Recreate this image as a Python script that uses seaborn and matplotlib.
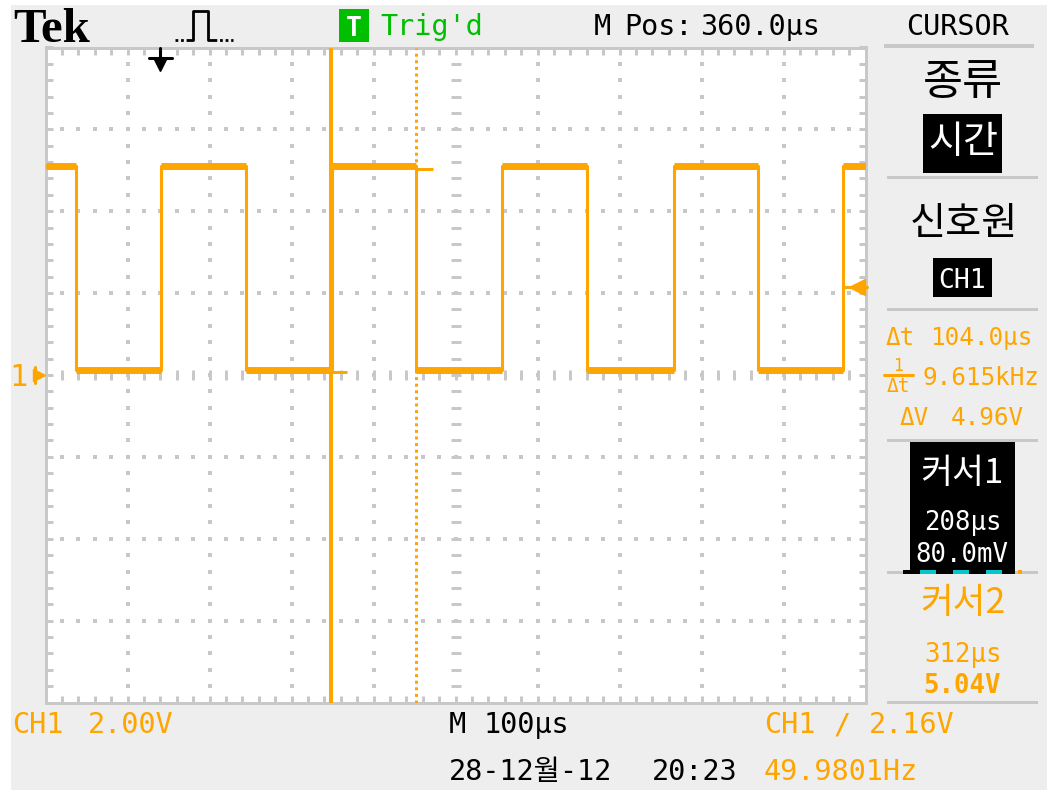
import numpy as np
import pandas as pd
import seaborn as sns
import matplotlib.pyplot as plt
from matplotlib import font_manager
from matplotlib.patches import Rectangle

# screen: 10 div x 100 us (time relative to trigger), 8 div x 2 V
time_range = [-140, 860]
volt_range = [-8, 8]
us_per_div = 100
volt_per_div = 2

# square wave: times (us) where the level flips, starts high
edge_times = [-103, 1, 105, 209, 312, 417, 520, 626, 729, 833]
levels = [5.1, 0.12]          # high, low (V)

cursor_times = [208, 312]
cursor_volts = [0.08, 5.04]
trigger_time = 0
trigger_level = 2.16

top_labels = ["Tek", "Trig'd", "M", "Pos:", "360.0μs", "CURSOR"]
menu_labels = ["종류", "시간", "신호원", "CH1"]
readouts = ["Δt", "104.0μs", "9.615kHz", "ΔV", "4.96V"]
cursor1_labels = ["커서1", "208μs", "80.0mV"]
cursor2_labels = ["커서2", "312μs", "5.04V"]
bottom_labels = ["CH1", "2.00V", "M", "100μs", "CH1", "/", "2.16V",
                 "28-12월-12", "20:23", "49.9801Hz"]

orange = "#FFA500"
green = "#00BE00"
gray = "#C8C8C8"
panel = "#EEEEEE"


def first_font(names, default="DejaVu Sans"):
    for n in names:
        try:
            font_manager.findfont(font_manager.FontProperties(family=n), fallback_to_default=False)
            return n
        except ValueError:
            pass
    return default


sns.set_theme(style="white")
latin = first_font(["DejaVu Sans Mono", "Liberation Mono"])
kr = first_font(["Noto Sans CJK KR", "Noto Sans CJK SC"])
serif = first_font(["Liberation Serif", "DejaVu Serif"])
fam = [latin, "DejaVu Sans", kr]
plt.rcParams["font.family"] = fam

W, H = 1047, 790
fig = plt.figure(figsize=(W / 100, H / 100), dpi=100, facecolor="white")

# background layer (pixel coords)
bg = fig.add_axes([0, 0, 1, 1], zorder=0)
bg.set_xlim(0, W); bg.set_ylim(H, 0); bg.set_axis_off()
bg.add_patch(Rectangle((11, 5), W - 11, H - 5, color=panel, lw=0))

# scope graticule
px_l, px_r, px_t, px_b = 45.5, 865.5, 47.5, 702.5
ax = fig.add_axes([px_l / W, 1 - px_b / H, (px_r - px_l) / W, (px_b - px_t) / H], zorder=1)
ax.set_facecolor("white")

t0, t1 = time_range
v0, v1 = volt_range
t_mid = (t0 + t1) / 2
minor_t = us_per_div / 5
minor_v = volt_per_div / 5

# dotted major lines, dashed centre cross
for tx in np.arange(t0 + us_per_div, t1, us_per_div):
    ys = np.arange(v0 + minor_v, v1 - minor_v / 2, minor_v)
    if tx == t_mid:
        ax.plot(np.full_like(ys, tx), ys, "_", ms=7.2, mew=2.16, color=gray, zorder=1)
    else:
        ax.plot(np.full_like(ys, tx), ys, "s", ms=2.2, mew=0, color=gray, zorder=1)
for vy in np.arange(v0 + volt_per_div, v1, volt_per_div):
    xs = np.arange(t0 + minor_t, t1 - minor_t / 2, minor_t)
    if vy == 0:
        ax.plot(xs, np.full_like(xs, vy), "|", ms=7.2, mew=2.16, color=gray, zorder=1)
    else:
        ax.plot(xs, np.full_like(xs, vy), "s", ms=2.2, mew=0, color=gray, zorder=1)

# trace
tt, vv = [t0], [levels[0]]
lvl = 0
for e in edge_times:
    tt += [e, e]
    vv += [levels[lvl], levels[1 - lvl]]
    lvl = 1 - lvl
tt.append(t1); vv.append(levels[lvl])
trace = pd.DataFrame({"t": tt, "v": vv})
sns.lineplot(data=trace, x="t", y="v", sort=False, estimator=None,
             color=orange, lw=2.2, ax=ax, zorder=3)
bounds = [t0] + edge_times + [t1]
for i in range(len(bounds) - 1):
    ax.hlines(levels[i % 2], bounds[i], bounds[i + 1], color=orange, lw=5, zorder=3)

# cursors
ax.axvline(cursor_times[0], color=orange, lw=2.9, zorder=4)
ax.axvline(cursor_times[1], color=orange, lw=2.16, ls=(0, (1, 1.2)), zorder=4)
for ct, cv in zip(cursor_times, cursor_volts):
    ax.hlines(cv, ct, ct + minor_t, color=orange, lw=2.16, zorder=4)

# trigger level marker (right edge)
ax.plot([t1 - 28, t1 + 2], [trigger_level, trigger_level], color=orange, lw=2.2, clip_on=False, zorder=5)
ax.plot([t1 - 10], [trigger_level], "<", ms=11, color=orange, clip_on=False, zorder=5)
# trigger position marker (top)
xa = ax.get_xaxis_transform()
ax.plot([trigger_time, trigger_time], [1.0, 0.984], color="black", lw=2.2, transform=xa, clip_on=False, zorder=5)
ax.plot([trigger_time - 14, trigger_time + 14], [0.984, 0.984], color="black", lw=2.2, transform=xa, zorder=5)
ax.plot([trigger_time], [0.973], "v", ms=8, color="black", transform=xa, zorder=5)

ax.set_xlim(t0, t1)
ax.set_ylim(v0, v1)
ax.set(xlabel="", ylabel="")
ax.set_xticks(np.arange(t0, t1 + 1, minor_t))
ax.set_yticks(np.arange(v0, v1 + 0.01, minor_v))
ax.tick_params(which="both", direction="in", length=5, width=2.16, color=gray,
               top=True, right=True, bottom=True, left=True,
               labelbottom=False, labelleft=False)
for sp in ax.spines.values():
    sp.set_color(gray)
    sp.set_linewidth(2.16)

# foreground layer for the screen text
fg = fig.add_axes([0, 0, 1, 1], zorder=2)
fg.set_xlim(0, W); fg.set_ylim(H, 0); fg.set_axis_off()
fg.patch.set_alpha(0)
renderer = fig.canvas.get_renderer()


def fit_text(s, x0, x1, y, color, family=None, va="baseline", weight="normal"):
    txt = fg.text((x0 + x1) / 2, y, s, ha="center", va=va, color=color,
                  family=family or fam, weight=weight, fontsize=20, zorder=6)
    w = txt.get_window_extent(renderer).width
    txt.set_fontsize(20 * (x1 - x0) / w)
    return txt


def put(s, x, y, color, size, ha="left", weight="normal"):
    return fg.text(x, y, s, ha=ha, va="baseline", color=color, fontsize=size,
                   weight=weight, zorder=6)


def bar(y, x0=887, x1=1038, h=3, color=gray):
    fg.add_patch(Rectangle((x0, y - h / 2), x1 - x0, h, color=color, lw=0))


big = 20.5      # status bar text
mid = 17.5      # side panel text

# top bar
fit_text(top_labels[0], 13, 90, 42, "black", serif, weight="bold")
fg.plot([175, 188], [40, 40], color="black", lw=2, ls=(0, (1, 1)))
fg.plot([188, 193, 193, 208, 208, 214], [40, 40, 11, 11, 40, 40], color="black", lw=2)
fg.plot([214, 233], [40, 40], color="black", lw=2, ls=(0, (1, 1)))
fg.add_patch(Rectangle((339, 9), 30, 33, color=green, lw=0))
put("T", 354, 36, "white", 19, ha="center", weight="bold")
put(top_labels[1], 380, 35, green, big)
put(top_labels[2], 594, 35, "black", big)
put(top_labels[3], 624, 35, "black", big)
put(top_labels[4], 700, 35, "black", big)
put(top_labels[5], 958, 35, "black", big, ha="center")
bar(46, 884, 1034, h=4)

# right menu
fit_text(menu_labels[0], 923, 1003, 83, "black", kr, va="center")
fg.add_patch(Rectangle((923, 114), 79, 59, color="black", lw=0))
fit_text(menu_labels[1], 928, 998, 143, "white", kr, va="center")
bar(177)
fit_text(menu_labels[2], 910, 1018, 224, "black", kr, va="center")
fg.add_patch(Rectangle((933, 258), 59, 39, color="black", lw=0))
put(menu_labels[3], 962, 288, "white", 19, ha="center")
bar(309)

put(readouts[0], 886, 345, orange, mid)
put(readouts[1], 930, 345, orange, mid)
put("1", 898, 371, orange, 12, ha="center")
fg.plot([884, 913], [375, 375], color=orange, lw=2.2)
put(readouts[0], 898, 392, orange, 14, ha="center")
put(readouts[2], 923, 385, orange, mid)
put(readouts[3], 900, 425, orange, mid)
put(readouts[4], 951, 425, orange, mid)
bar(440)

fg.add_patch(Rectangle((910, 442), 105, 128, color="black", lw=0))
fit_text(cursor1_labels[0], 920, 1003, 473, "white", kr, va="center")
put(cursor1_labels[1], 963, 530, "white", 18.5, ha="center")
put(cursor1_labels[2], 962, 562, "white", 18.5, ha="center")
bar(572)
fg.add_patch(Rectangle((903, 570), 112, 4, color="black", lw=0))
for cx in [920, 953, 986]:
    fg.add_patch(Rectangle((cx, 570), 16, 4, color="#00C8C8", lw=0))
fg.add_patch(Rectangle((1018, 570), 4, 4, color=orange, lw=0))

fit_text(cursor2_labels[0], 920, 1005, 603, orange, kr, va="center")
put(cursor2_labels[1], 963, 662, orange, 18.5, ha="center")
put(cursor2_labels[2], 962, 693, orange, 18.5, ha="center", weight="bold")
bar(702)

# ground marker for CH1
put("1", 19, 386, orange, 22, ha="center")
fg.plot([35, 35], [367, 383], color=orange, lw=2.2)
fg.plot([39], [375], ">", ms=8, color=orange)

# bottom bar
put(bottom_labels[0], 12, 733, orange, big)
put(bottom_labels[1], 88, 733, orange, big)
put(bottom_labels[2], 449, 733, "black", big)
put(bottom_labels[3], 484, 733, "black", big)
put(bottom_labels[4], 764, 733, orange, big)
put(bottom_labels[5], 834, 733, orange, big)
put(bottom_labels[6], 869, 733, orange, big)
put(bottom_labels[7], 449, 780, "black", big)
put(bottom_labels[8], 652, 780, "black", big)
put(bottom_labels[9], 764, 780, orange, big)

fig.savefig("out.png", dpi=100, facecolor=fig.get_facecolor())
